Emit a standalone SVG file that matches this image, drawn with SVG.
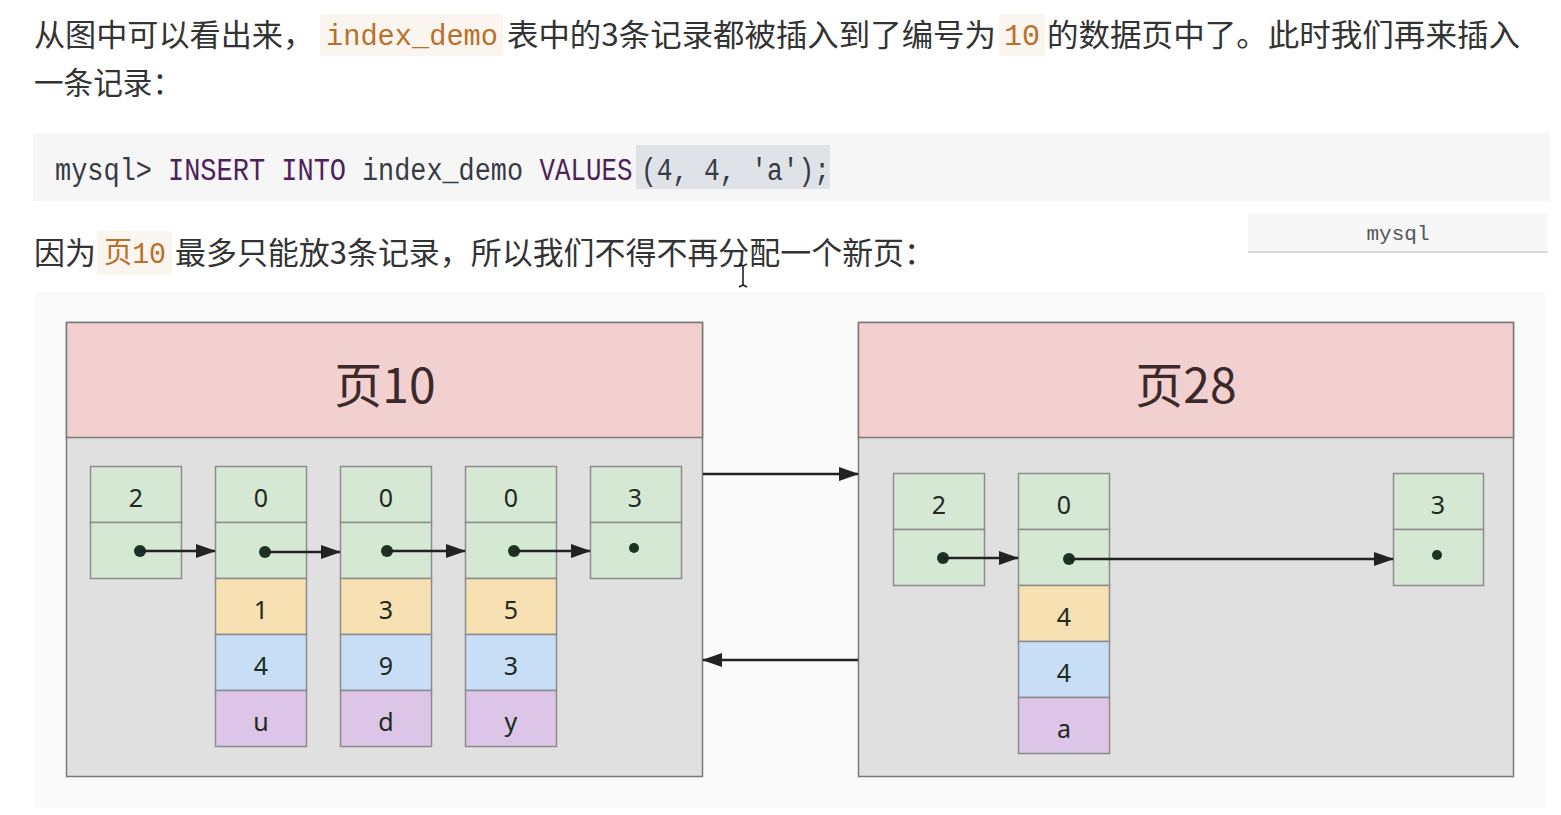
<svg xmlns="http://www.w3.org/2000/svg" width="1561" height="815" viewBox="0 0 1561 815">
<style>
.cn{font-family:"Noto Sans CJK SC","Noto Sans",sans-serif;font-size:31px;fill:#333333}
.code{font-family:"Liberation Mono","Noto Sans CJK SC",monospace;fill:#b8702a}
.codebg{fill:#fbf5f0}
.pre{font-family:"Liberation Mono",monospace;font-size:31px;fill:#383a42}
.kw{fill:#4d2159}
.frame{stroke:#7a7a7a;stroke-width:1.5}
.hdr{fill:#f2d0d0}
.body{fill:#e0e0e0}
.title{font-family:"Noto Sans CJK SC","Noto Sans",sans-serif;font-size:48px;fill:#3a2a2a;text-anchor:middle}
.c{stroke:#8c8c8c;stroke-width:1.5}
.g{fill:#d5e8d4}
.y{fill:#f7e0b1}
.b{fill:#c8ddf6}
.p{fill:#dcc5e6}
.v{font-family:"Noto Sans","Open Sans",sans-serif;font-size:25px;fill:#1e2a22;text-anchor:middle}
.dot{fill:#1b3322}
.ln{stroke:#222222;stroke-width:2.5;fill:none}
</style>
<defs>
<marker id="ah" viewBox="0 0 20 14" refX="19" refY="7" markerWidth="20" markerHeight="14" markerUnits="userSpaceOnUse" orient="auto">
<path d="M0,0 L20,7 L0,14 Z" fill="#222222"/>
</marker>
</defs>
<rect x="0" y="0" width="1561" height="815" fill="#ffffff"/>

<g id="text-line1">
<text class="cn" x="34" y="46" textLength="280" lengthAdjust="spacingAndGlyphs">从图中可以看出来，</text>
<rect class="codebg" x="320" y="14" width="183" height="42" rx="3"/>
<text class="code" x="326" y="45" font-size="29" textLength="172" lengthAdjust="spacingAndGlyphs">index_demo</text>
<text class="cn" x="507" y="46" textLength="489" lengthAdjust="spacingAndGlyphs">表中的3条记录都被插入到了编号为</text>
<rect class="codebg" x="999" y="14" width="46" height="42" rx="3"/>
<text class="code" x="1004" y="45" font-size="29" textLength="36" lengthAdjust="spacingAndGlyphs">10</text>
<text class="cn" x="1047" y="46" textLength="473" lengthAdjust="spacingAndGlyphs">的数据页中了。此时我们再来插入</text>
<text class="cn" x="34" y="94" textLength="148" lengthAdjust="spacingAndGlyphs">一条记录：</text>
</g>

<g id="code-block">
<rect x="33" y="133" width="1517" height="68" fill="#f6f6f7"/>
<rect x="636" y="145" width="194" height="44" fill="#dfe3e8"/>
<text class="pre" x="55" y="180" textLength="97" lengthAdjust="spacingAndGlyphs">mysql&gt;</text>
<text class="pre kw" x="168" y="180" textLength="178" lengthAdjust="spacingAndGlyphs">INSERT INTO</text>
<text class="pre" x="362" y="180" textLength="161" lengthAdjust="spacingAndGlyphs">index_demo</text>
<text class="pre kw" x="539.5" y="180" textLength="93" lengthAdjust="spacingAndGlyphs">VALUES</text>
<text class="pre" x="641" y="180" textLength="189" lengthAdjust="spacingAndGlyphs">(4, 4, 'a');</text>
</g>

<g id="lang-label">
<rect x="1248" y="215" width="300" height="38" fill="#dcdcdc"/>
<rect x="1248" y="213" width="300" height="38" fill="#f7f7f7"/>
<text x="1398" y="240" font-family="Liberation Mono,monospace" font-size="21" fill="#555555" text-anchor="middle">mysql</text>
</g>

<g id="text-line3">
<text class="cn" x="34" y="264" textLength="62" lengthAdjust="spacingAndGlyphs">因为</text>
<rect class="codebg" x="97" y="231" width="75" height="44" rx="3"/>
<text class="code" x="104" y="263" font-size="29" textLength="62" lengthAdjust="spacingAndGlyphs">页10</text>
<text class="cn" x="175" y="264" textLength="760" lengthAdjust="spacingAndGlyphs">最多只能放3条记录，所以我们不得不再分配一个新页：</text>
</g>

<g id="cursor">
<path d="M739,264 L743,266 L747,264 M743,266 L743,285 M739,287 L743,285 L747,287" stroke="#222222" stroke-width="1.6" fill="none"/>
</g>

<rect id="diagram-bg" x="35" y="292" width="1510" height="516" fill="#fafafa"/>

<g id="page10">
<rect class="body frame" x="66.5" y="322.5" width="636" height="454"/>
<rect class="hdr frame" x="66.5" y="322.5" width="636" height="115"/>
<text class="title" x="385" y="403">页10</text>
</g>

<g id="page28">
<rect class="body frame" x="858.5" y="322.5" width="655" height="454"/>
<rect class="hdr frame" x="858.5" y="322.5" width="655" height="115"/>
<text class="title" x="1186" y="403">页28</text>
</g>

<g id="p10-infimum">
<rect class="g c" x="90.5" y="466.5" width="91" height="56"/>
<rect class="g c" x="90.5" y="522.5" width="91" height="56"/>
<text class="v" x="136" y="507">2</text>
</g>
<g id="p10-rec1">
<rect class="g c" x="215.5" y="466.5" width="91" height="56"/>
<rect class="g c" x="215.5" y="522.5" width="91" height="56"/>
<rect class="y c" x="215.5" y="578.5" width="91" height="56"/>
<rect class="b c" x="215.5" y="634.5" width="91" height="56"/>
<rect class="p c" x="215.5" y="690.5" width="91" height="56"/>
<text class="v" x="261" y="507">0</text>
<text class="v" x="261" y="619">1</text>
<text class="v" x="261" y="675">4</text>
<text class="v" x="261" y="731">u</text>
</g>
<g id="p10-rec2">
<rect class="g c" x="340.5" y="466.5" width="91" height="56"/>
<rect class="g c" x="340.5" y="522.5" width="91" height="56"/>
<rect class="y c" x="340.5" y="578.5" width="91" height="56"/>
<rect class="b c" x="340.5" y="634.5" width="91" height="56"/>
<rect class="p c" x="340.5" y="690.5" width="91" height="56"/>
<text class="v" x="386" y="507">0</text>
<text class="v" x="386" y="619">3</text>
<text class="v" x="386" y="675">9</text>
<text class="v" x="386" y="731">d</text>
</g>
<g id="p10-rec3">
<rect class="g c" x="465.5" y="466.5" width="91" height="56"/>
<rect class="g c" x="465.5" y="522.5" width="91" height="56"/>
<rect class="y c" x="465.5" y="578.5" width="91" height="56"/>
<rect class="b c" x="465.5" y="634.5" width="91" height="56"/>
<rect class="p c" x="465.5" y="690.5" width="91" height="56"/>
<text class="v" x="511" y="507">0</text>
<text class="v" x="511" y="619">5</text>
<text class="v" x="511" y="675">3</text>
<text class="v" x="511" y="731">y</text>
</g>
<g id="p10-supremum">
<rect class="g c" x="590.5" y="466.5" width="91" height="56"/>
<rect class="g c" x="590.5" y="522.5" width="91" height="56"/>
<text class="v" x="635" y="507">3</text>
<circle class="dot" cx="634" cy="548" r="5"/>
</g>

<g id="p28-infimum">
<rect class="g c" x="893.5" y="473.5" width="91" height="56"/>
<rect class="g c" x="893.5" y="529.5" width="91" height="56"/>
<text class="v" x="939" y="514">2</text>
</g>
<g id="p28-rec1">
<rect class="g c" x="1018.5" y="473.5" width="91" height="56"/>
<rect class="g c" x="1018.5" y="529.5" width="91" height="56"/>
<rect class="y c" x="1018.5" y="585.5" width="91" height="56"/>
<rect class="b c" x="1018.5" y="641.5" width="91" height="56"/>
<rect class="p c" x="1018.5" y="697.5" width="91" height="56"/>
<text class="v" x="1064" y="514">0</text>
<text class="v" x="1064" y="626">4</text>
<text class="v" x="1064" y="682">4</text>
<text class="v" x="1064" y="738">a</text>
</g>
<g id="p28-supremum">
<rect class="g c" x="1393.5" y="473.5" width="90" height="56"/>
<rect class="g c" x="1393.5" y="529.5" width="90" height="56"/>
<text class="v" x="1438" y="514">3</text>
<circle class="dot" cx="1437" cy="555" r="5"/>
</g>

<g id="connectors">
<circle class="dot" cx="140" cy="551" r="6"/>
<line class="ln" x1="140" y1="551" x2="215" y2="551" marker-end="url(#ah)"/>
<circle class="dot" cx="265" cy="552" r="6"/>
<line class="ln" x1="265" y1="552" x2="340" y2="552" marker-end="url(#ah)"/>
<circle class="dot" cx="387" cy="551" r="6"/>
<line class="ln" x1="387" y1="551" x2="465" y2="551" marker-end="url(#ah)"/>
<circle class="dot" cx="514" cy="551" r="6"/>
<line class="ln" x1="514" y1="551" x2="590" y2="551" marker-end="url(#ah)"/>
<circle class="dot" cx="943" cy="558" r="6"/>
<line class="ln" x1="943" y1="558" x2="1018" y2="558" marker-end="url(#ah)"/>
<circle class="dot" cx="1069" cy="559" r="6"/>
<line class="ln" x1="1069" y1="559" x2="1393" y2="559" marker-end="url(#ah)"/>
<line class="ln" x1="703" y1="474" x2="858" y2="474" marker-end="url(#ah)"/>
<line class="ln" x1="858" y1="660" x2="703" y2="660" marker-end="url(#ah)"/>
</g>
</svg>
